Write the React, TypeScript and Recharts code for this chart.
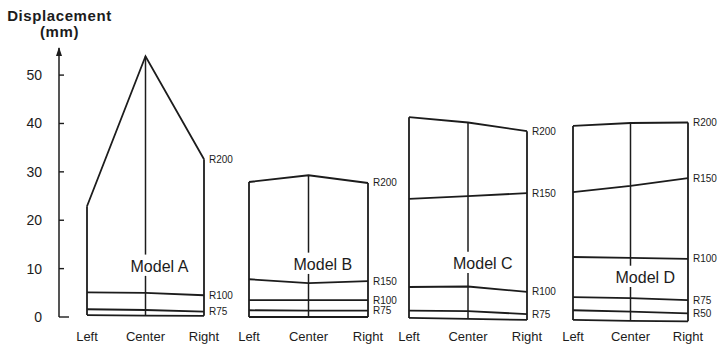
import { LineChart, Line, XAxis, YAxis, ReferenceLine, ReferenceDot, LabelList, Label } from 'recharts';

const POSITIONS = ['Left', 'Center', 'Right'];

// Model A
const A_R200 = [22.9, 53.9, 32.6];
const A_R100 = [5.1, 5.0, 4.5];
const A_R75 = [1.6, 1.45, 1.1];
const A_BASE = [0.4, 0.3, 0.25];

// Model B
const B_R200 = [27.9, 29.3, 27.7];
const B_R150 = [7.8, 7.0, 7.4];
const B_R100 = [3.5, 3.5, 3.5];
const B_R75 = [1.4, 1.3, 1.3];
const B_BASE = [0, 0, 0];

// Model C
const C_R200 = [41.3, 40.2, 38.4];
const C_R150 = [24.4, 25.0, 25.6];
const C_R100 = [6.2, 6.3, 5.2];
const C_R75 = [1.3, 1.2, 0.6];
const C_BASE = [-0.2, -0.4, -0.6];

// Model D
const D_R200 = [39.5, 40.1, 40.2];
const D_R150 = [25.8, 27.1, 28.7];
const D_R100 = [12.4, 12.2, 12.0];
const D_R75 = [4.1, 3.9, 3.5];
const D_R50 = [1.4, 1.1, 0.75];
const D_BASE = [-0.6, -0.8, -0.9];

const Y_TICKS = [0, 10, 20, 30, 40, 50];

const INK = '#1c1c1c';
const STROKE = 1.8;
const CHART_H = 344;
const PLOT_TOP = 48;
const ZERO_Y = 317;
const Y_MAX = 55.6;
const HIDDEN_MIN = -1.5;
const PX_PER_UNIT = (ZERO_Y - PLOT_TOP) / Y_MAX;
const HIDDEN_BOTTOM = ZERO_Y - HIDDEN_MIN * PX_PER_UNIT;
const LABEL_BASELINE = 341;

type Panel = {
  name: string;
  series: [string, number[]][];
  base: number[];
  labelY: number;
  left: number;
  right: number;
};

const PANELS: Panel[] = [
  { name: 'Model A', series: [['R200', A_R200], ['R100', A_R100], ['R75', A_R75]], base: A_BASE, labelY: 9.3, left: 87, right: 204 },
  { name: 'Model B', series: [['R200', B_R200], ['R150', B_R150], ['R100', B_R100], ['R75', B_R75]], base: B_BASE, labelY: 9.7, left: 249, right: 368 },
  { name: 'Model C', series: [['R200', C_R200], ['R150', C_R150], ['R100', C_R100], ['R75', C_R75]], base: C_BASE, labelY: 9.9, left: 409, right: 527 },
  { name: 'Model D', series: [['R200', D_R200], ['R150', D_R150], ['R100', D_R100], ['R75', D_R75], ['R50', D_R50]], base: D_BASE, labelY: 7.0, left: 573, right: 688 },
];

const YTick = (props: any) => {
  const { x, y, payload } = props;
  const v = payload.value;
  if (v === Y_MAX) {
    return <path d={`M${x},${y - 1} L${x - 3},${y + 8} L${x + 3},${y + 8} Z`} fill={INK} />;
  }
  return (
    <g>
      <line x1={x} x2={x + (v === 0 ? 10 : 5)} y1={y} y2={y} stroke={INK} strokeWidth={1.4} />
      <text x={x - 17} y={y} dy={5} textAnchor="end" fontSize={14} fill={INK}>{v}</text>
    </g>
  );
};

const makeXTick = (dy: number) => (props: any) => (
  <text x={props.x} y={props.y} dy={dy} textAnchor="middle" fontSize={13} fill={INK}>
    {props.payload.value}
  </text>
);

const Title = (props: any) => {
  const vb = props.viewBox || { x: 9, width: 50 };
  const cx = vb.x + vb.width + 0.5;
  return (
    <g fill={INK} fontWeight="bold" fontSize={15} textAnchor="middle" letterSpacing={0.6}>
      <text x={cx} y={21}>Displacement</text>
      <text x={cx} y={37}>(mm)</text>
    </g>
  );
};

const PanelChart = ({ panel, first }: { panel: Panel; first: boolean }) => {
  const data = POSITIONS.map((pos, i) => {
    const row: Record<string, any> = { pos, base: panel.base[i] };
    panel.series.forEach(([k, vals]) => { row[k] = vals[i]; });
    return row;
  });
  const top = panel.series[0][1];
  const last = POSITIONS.length - 1;

  const axisX = 59;
  const chartLeft = first ? 0 : panel.left - 20;
  const marginLeft = first ? 9 : 20;
  const yWidth = 50;
  const width = panel.right - chartLeft + 40;
  const plotBottom = first ? ZERO_Y : HIDDEN_BOTTOM;

  return (
    <div style={{ position: 'absolute', left: chartLeft, top: 0 }}>
      <LineChart
        width={width}
        height={CHART_H}
        data={data}
        margin={{ top: PLOT_TOP, right: width - (panel.right - chartLeft), left: marginLeft, bottom: 0 }}
      >
        <XAxis
          dataKey="pos"
          type="category"
          scale="point"
          interval={0}
          padding={{ left: first ? panel.left - axisX : 0, right: 0 }}
          axisLine={false}
          tickLine={false}
          tickSize={0}
          tickMargin={0}
          height={CHART_H - plotBottom}
          tick={makeXTick(LABEL_BASELINE - plotBottom)}
        />
        {first ? (
          <YAxis
            width={yWidth}
            type="number"
            domain={[0, Y_MAX]}
            ticks={[...Y_TICKS, Y_MAX]}
            interval={0}
            tickSize={0}
            tickMargin={0}
            tickLine={false}
            axisLine={{ stroke: INK, strokeWidth: 1.5 }}
            tick={<YTick />}
          >
            <Label content={<Title />} />
          </YAxis>
        ) : (
          <YAxis hide type="number" domain={[HIDDEN_MIN, Y_MAX]} />
        )}

        {/* verticals at Left and Right */}
        <ReferenceLine segment={[{ x: POSITIONS[0], y: panel.base[0] }, { x: POSITIONS[0], y: top[0] }]} stroke={INK} strokeWidth={STROKE} ifOverflow="visible" />
        <ReferenceLine segment={[{ x: POSITIONS[last], y: panel.base[last] }, { x: POSITIONS[last], y: top[last] }]} stroke={INK} strokeWidth={STROKE} ifOverflow="visible" />
        {/* center vertical, broken around the model name */}
        <ReferenceLine segment={[{ x: POSITIONS[1], y: panel.base[1] }, { x: POSITIONS[1], y: panel.labelY - 0.8 }]} stroke={INK} strokeWidth={1.5} ifOverflow="visible" />
        <ReferenceLine segment={[{ x: POSITIONS[1], y: panel.labelY + 3.6 }, { x: POSITIONS[1], y: top[1] }]} stroke={INK} strokeWidth={1.5} ifOverflow="visible" />

        <Line dataKey="base" stroke={INK} strokeWidth={STROKE} dot={false} isAnimationActive={false} />
        {panel.series.map(([k]) => (
          <Line key={k} dataKey={k} stroke={INK} strokeWidth={STROKE} dot={false} isAnimationActive={false}>
            <LabelList
              dataKey={k}
              content={(p: any) =>
                p.index === last ? (
                  <text x={p.x + 5} y={p.y} dy={3.5} fontSize={10} fill={INK}>{k}</text>
                ) : null
              }
            />
          </Line>
        ))}

        <ReferenceDot
          x={POSITIONS[1]}
          y={panel.labelY}
          r={1}
          ifOverflow="visible"
          shape={(p: any) => (
            <text x={p.cx - 15} y={p.cy} fontSize={16} fill={INK}>{panel.name}</text>
          )}
        />
      </LineChart>
    </div>
  );
};

export default function App() {
  return (
    <div
      style={{
        position: 'absolute',
        left: 0,
        top: 0,
        width: 718,
        height: CHART_H,
        background: '#fff',
        fontFamily: '"Liberation Sans", Arial, sans-serif',
      }}
    >
      {PANELS.map((p, i) => (
        <PanelChart key={p.name} panel={p} first={i === 0} />
      ))}
    </div>
  );
}
